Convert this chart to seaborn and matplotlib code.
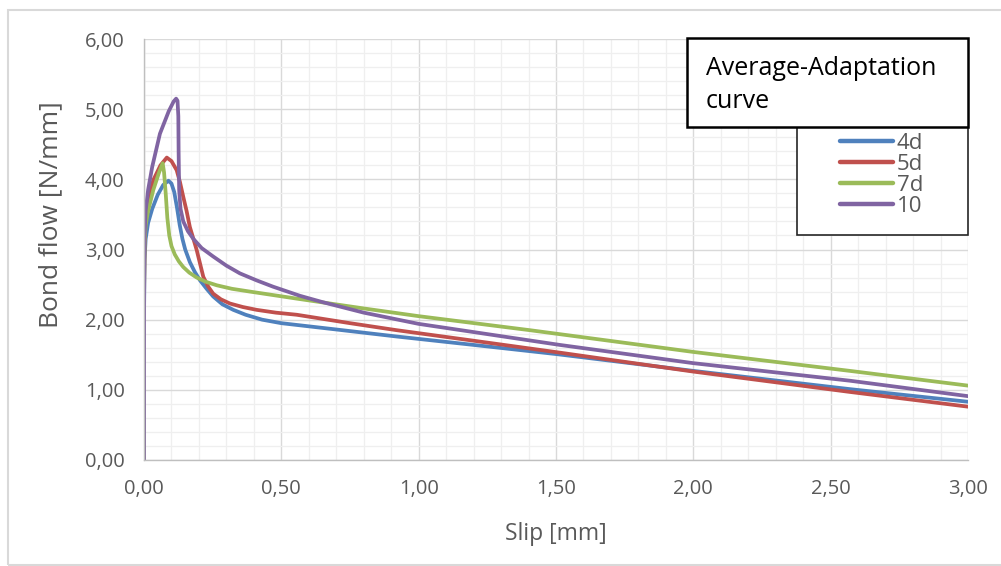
import numpy as np
import pandas as pd
import matplotlib
matplotlib.use("Agg")
import matplotlib.pyplot as plt
from matplotlib.patches import Rectangle
from matplotlib.ticker import MultipleLocator, FuncFormatter
import seaborn as sns

# ---------------- data ----------------
series_names = ["4d", "5d", "7d", "10"]

x_4d = [0.000, 0.0005, 0.002, 0.006, 0.015, 0.030, 0.050, 0.070, 0.089, 0.100, 0.110, 0.120,
        0.130, 0.140, 0.150, 0.167, 0.185, 0.204, 0.228, 0.252, 0.285, 0.325, 0.370, 0.430,
        0.500, 0.700, 0.920, 1.200, 1.500, 2.000, 2.570, 3.000]
y_4d = [0.00, 2.20, 2.85, 3.15, 3.38, 3.58, 3.78, 3.92, 3.98, 3.94, 3.82, 3.60,
        3.35, 3.15, 3.00, 2.82, 2.68, 2.56, 2.44, 2.33, 2.22, 2.14, 2.07, 2.00,
        1.95, 1.86, 1.76, 1.64, 1.51, 1.27, 1.01, 0.83]

x_5d = [0.000, 0.0005, 0.002, 0.006, 0.015, 0.034, 0.060, 0.083, 0.100, 0.119, 0.131, 0.143,
        0.155, 0.167, 0.180, 0.192, 0.204, 0.216, 0.234, 0.252, 0.280, 0.313, 0.360, 0.410,
        0.480, 0.556, 0.750, 0.920, 1.200, 1.514, 2.000, 2.570, 3.000]
y_5d = [0.00, 2.40, 3.10, 3.45, 3.70, 3.99, 4.20, 4.31, 4.26, 4.13, 3.96, 3.75,
        3.55, 3.32, 3.15, 2.99, 2.80, 2.61, 2.47, 2.37, 2.29, 2.23, 2.18, 2.14,
        2.10, 2.07, 1.95, 1.85, 1.70, 1.53, 1.26, 0.97, 0.76]

x_7d = [0.000, 0.0005, 0.002, 0.006, 0.015, 0.034, 0.055, 0.068, 0.073, 0.079, 0.085, 0.092,
        0.100, 0.112, 0.127, 0.143, 0.165, 0.192, 0.225, 0.265, 0.320, 0.386, 0.556, 0.800,
        1.000, 1.405, 2.000, 2.570, 3.000]
y_7d = [0.00, 2.50, 3.10, 3.35, 3.55, 3.85, 4.10, 4.23, 4.10, 3.80, 3.45, 3.20,
        3.05, 2.93, 2.83, 2.75, 2.67, 2.60, 2.54, 2.49, 2.44, 2.40, 2.30, 2.16,
        2.05, 1.85, 1.54, 1.27, 1.06]

x_10 = [0.000, 0.0005, 0.002, 0.006, 0.015, 0.030, 0.058, 0.090, 0.108, 0.117, 0.122, 0.125,
        0.126, 0.128, 0.133, 0.143, 0.160, 0.180, 0.210, 0.252, 0.300, 0.349, 0.410, 0.470,
        0.568, 0.650, 0.800, 1.000, 1.514, 2.000, 2.570, 3.000]
y_10 = [0.00, 2.60, 3.20, 3.55, 3.85, 4.18, 4.65, 4.97, 5.11, 5.15, 5.12, 4.90,
        4.40, 3.85, 3.58, 3.40, 3.26, 3.15, 3.02, 2.90, 2.77, 2.66, 2.56, 2.47,
        2.34, 2.25, 2.10, 1.94, 1.64, 1.38, 1.13, 0.91]

x_ticks = [0.0, 0.5, 1.0, 1.5, 2.0, 2.5, 3.0]
y_ticks = [0.0, 1.0, 2.0, 3.0, 4.0, 5.0, 6.0]

title_text = "Average-Adaptation\ncurve"
x_label = "Slip [mm]"
y_label = "Bond flow [N/mm]"

colors = ["#4F81BD", "#C0504D", "#9BBB59", "#8064A2"]

# ---------------- build long table ----------------
frames = []
for name, xs, ys in zip(series_names, [x_4d, x_5d, x_7d, x_10], [y_4d, y_5d, y_7d, y_10]):
    frames.append(pd.DataFrame({"slip": xs, "bond": ys, "series": name}))
df = pd.concat(frames, ignore_index=True)

# ---------------- figure ----------------
sns.set_theme(style="white")
plt.rcParams["font.family"] = ["Open Sans", "DejaVu Sans"]

W, H = 1001, 566
fig = plt.figure(figsize=(W / 100, H / 100), dpi=100)
fig.patch.set_facecolor("white")

def fx(px):
    return px / W

def fy(py):
    return 1 - py / H

ax = fig.add_axes([fx(144), fy(460), fx(968) - fx(144), fy(39) - fy(460)])

sns.lineplot(data=df, x="slip", y="bond", hue="series", hue_order=series_names,
             palette=colors, sort=False, estimator=None, units="series",
             linewidth=2.7, legend=False, ax=ax)
for ln in ax.lines:
    ln.set_solid_joinstyle("round")
    ln.set_solid_capstyle("round")

ax.set_xlim(0, 3)
ax.set_ylim(0, 6)
ax.set_xticks(x_ticks)
ax.set_yticks(y_ticks)
ax.xaxis.set_minor_locator(MultipleLocator(0.1))
ax.yaxis.set_minor_locator(MultipleLocator(0.2))
fmt = FuncFormatter(lambda v, p: f"{v:.2f}".replace(".", ","))
ax.xaxis.set_major_formatter(fmt)
ax.yaxis.set_major_formatter(fmt)

ax.grid(which="major", color="#D9D9D9", linewidth=1.0)
ax.grid(which="minor", color="#EFEFEF", linewidth=0.9)
ax.set_axisbelow(True)

for s in ["top", "right"]:
    ax.spines[s].set_visible(False)
for s in ["left", "bottom"]:
    ax.spines[s].set_color("#BFBFBF")
    ax.spines[s].set_linewidth(1.0)

ax.tick_params(axis="both", which="major", direction="out", length=6, width=1,
               color="#BFBFBF", labelsize=14.5, labelcolor="#595959")
ax.tick_params(axis="both", which="minor", length=0)
ax.tick_params(axis="y", pad=8)
ax.tick_params(axis="x", pad=8)

ax.set_xlabel(x_label, fontsize=16.5, color="#595959", labelpad=16)
ax.set_ylabel(y_label, fontsize=19, color="#595959")
ax.yaxis.set_label_coords(-0.098, (460 - 215) / 421)

# outer chart border
fig.add_artist(Rectangle((fx(7.5), fy(565)), fx(1010) - fx(7.5), fy(10) - fy(565),
                         transform=fig.transFigure, fill=False,
                         edgecolor="#D9D9D9", linewidth=1.5, zorder=0))

# legend box
fig.add_artist(Rectangle((fx(797), fy(235)), fx(968) - fx(797), fy(125) - fy(235),
                         transform=fig.transFigure, facecolor="white",
                         edgecolor="#262626", linewidth=1.2, zorder=5))
handles = [plt.Line2D([], [], color=c, linewidth=3.2) for c in colors]
leg = fig.legend(handles, series_names, loc="upper left",
                 bbox_to_anchor=(fx(840), fy(133)), frameon=False,
                 fontsize=16, labelcolor="#595959", handlelength=2.4,
                 handletextpad=0.15, labelspacing=0.0, borderpad=0.0,
                 borderaxespad=0)
leg.set_zorder(6)

# title box
fig.add_artist(Rectangle((fx(687), fy(127)), fx(968) - fx(687), fy(38) - fy(127),
                         transform=fig.transFigure, facecolor="white",
                         edgecolor="black", linewidth=1.8, zorder=7))
fig.text(fx(706), fy(85), title_text, fontsize=18, color="black",
         ha="left", va="center", linespacing=1.4, zorder=8)

fig.savefig("out.png", dpi=100)
